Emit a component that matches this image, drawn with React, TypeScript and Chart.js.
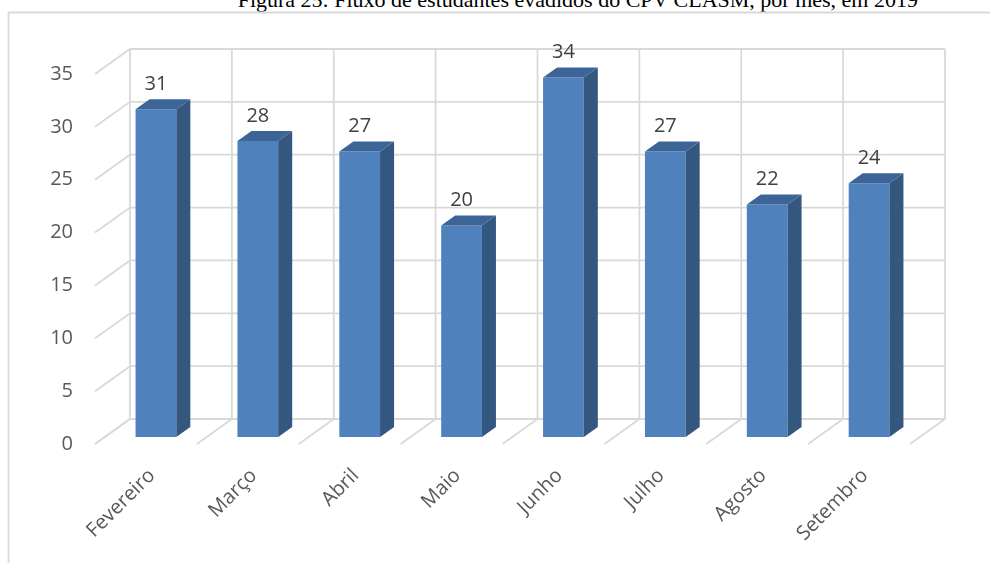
import React, { useEffect, useRef } from "react";
import { Chart, registerables } from "chart.js";

Chart.register(...registerables);

const titleText = "Figura 25: Fluxo de estudantes evadidos do CPV CLASM, por mês, em 2019";
const categories = ["Fevereiro", "Março", "Abril", "Maio", "Junho", "Julho", "Agosto", "Setembro"];
const values = [31, 28, 27, 20, 34, 27, 22, 24];
const yMin = 0;
const yMax = 35;
const yStep = 5;

const FONT = "'Open Sans', 'Noto Sans', sans-serif";

const threeD = {
  id: "threeD",
  beforeDatasetsDraw(chart: any) {
    const { ctx, scales, chartArea } = chart;
    const y = scales.y;
    const BX = 25, BY = -18, FX = -10, FY = 7;
    const left = chartArea.left;
    const right = chartArea.right;
    ctx.save();
    ctx.strokeStyle = "#d9d9d9";
    ctx.lineWidth = 1.8;
    // outer frame
    ctx.beginPath();
    ctx.moveTo(8.5, 563);
    ctx.lineTo(8.5, 12.5);
    ctx.lineTo(990, 12.5);
    ctx.stroke();
    const y0 = y.getPixelForValue(yMin);
    const yT = y.getPixelForValue(yMax);
    for (let v = yMin; v <= yMax; v += yStep) {
      const yy = y.getPixelForValue(v);
      ctx.beginPath();
      ctx.moveTo(right + BX, yy + BY);
      ctx.lineTo(left + BX, yy + BY);
      ctx.lineTo(left + FX, yy + FY);
      ctx.stroke();
    }
    const n = categories.length;
    const w = (right - left) / n;
    for (let k = 0; k <= n; k++) {
      const xx = left + k * w;
      ctx.beginPath();
      ctx.moveTo(xx + BX, yT + BY);
      ctx.lineTo(xx + BX, y0 + BY);
      ctx.lineTo(xx + FX, y0 + FY);
      ctx.stroke();
    }
    ctx.restore();
  },
  afterDatasetsDraw(chart: any) {
    const { ctx } = chart;
    const meta = chart.getDatasetMeta(0);
    const DX = 14, DY = -10;
    ctx.save();
    meta.data.forEach((bar: any, i: number) => {
      const l = bar.x - bar.width / 2;
      const r = bar.x + bar.width / 2;
      const t = bar.y;
      const b = bar.base;
      ctx.fillStyle = "#33577f";
      ctx.beginPath();
      ctx.moveTo(r, t);
      ctx.lineTo(r + DX, t + DY);
      ctx.lineTo(r + DX, b + DY);
      ctx.lineTo(r, b);
      ctx.closePath();
      ctx.fill();
      ctx.fillStyle = "#3c6496";
      ctx.beginPath();
      ctx.moveTo(l, t);
      ctx.lineTo(l + DX, t + DY);
      ctx.lineTo(r + DX, t + DY);
      ctx.lineTo(r, t);
      ctx.closePath();
      ctx.fill();
      ctx.fillStyle = "#404040";
      ctx.font = `20px ${FONT}`;
      ctx.textAlign = "center";
      ctx.textBaseline = "middle";
      ctx.fillText(String(values[i]), bar.x, t - 25);
    });
    ctx.restore();
  },
};

export default function App() {
  const ref = useRef<HTMLCanvasElement | null>(null);
  useEffect(() => {
    if (!ref.current) return;
    const chart = new Chart(ref.current, {
      type: "bar",
      data: {
        labels: categories,
        datasets: [
          {
            data: values,
            backgroundColor: "#4f81bd",
            borderWidth: 0,
            barPercentage: 0.4,
            categoryPercentage: 1,
          },
        ],
      },
      options: {
        animation: false,
        responsive: false,
        layout: { padding: { top: 67, right: 70, left: 0, bottom: 0 } },
        plugins: { legend: { display: false }, tooltip: { enabled: false }, title: { display: false } },
        scales: {
          x: {
            grid: { display: false, drawTicks: false },
            border: { display: false },
            ticks: {
              autoSkip: false,
              maxRotation: 45,
              minRotation: 45,
              padding: 27,
              labelOffset: -4,
              color: "#595959",
              font: { family: FONT, size: 20 },
            },
            afterFit: (s: any) => {
              s.height = 126;
            },
          },
          y: {
            min: yMin,
            max: yMax,
            grid: { display: false, drawTicks: false },
            border: { display: false },
            ticks: {
              stepSize: yStep,
              padding: 32,
              labelOffset: 7,
              color: "#595959",
              font: { family: FONT, size: 20 },
            },
            afterFit: (s: any) => {
              s.width = 105;
            },
          },
        },
      },
      plugins: [threeD],
    });
    return () => chart.destroy();
  }, []);
  return (
    <div style={{ position: "absolute", left: 0, top: 0, width: 990, height: 563, overflow: "hidden", background: "#fff" }}>
      <div
        style={{
          position: "absolute",
          right: 72,
          top: -11,
          whiteSpace: "nowrap",
          fontFamily: "'Liberation Serif', 'Times New Roman', serif",
          fontSize: 22,
          lineHeight: "22px",
          color: "#000",
        }}
      >
        {titleText}
      </div>
      <canvas ref={ref} width={990} height={563} style={{ position: "absolute", left: 0, top: 0, width: 990, height: 563 }} />
    </div>
  );
}
